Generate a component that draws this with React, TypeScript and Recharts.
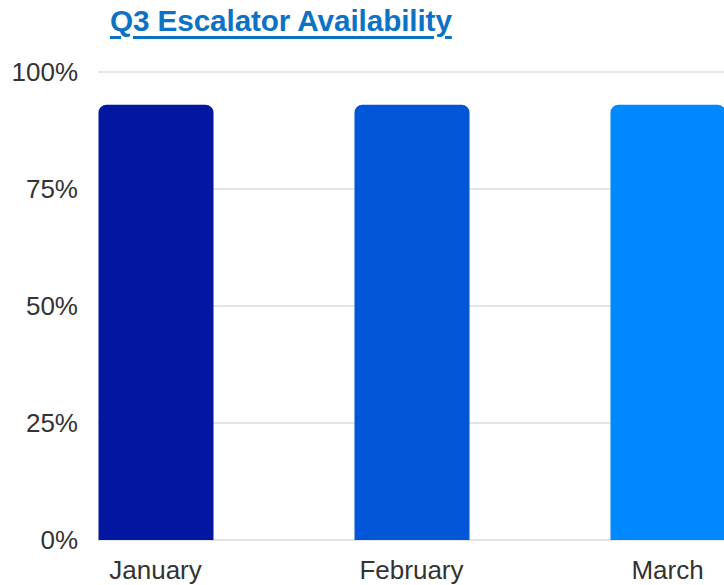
import React from 'react';
import { BarChart, Bar, Cell, XAxis, YAxis, CartesianGrid } from 'recharts';

const months = ['January', 'February', 'March'];
const availability = [93, 93, 93];
const barColors = ['#0216A0', '#0056D6', '#0089FF'];
const yTicks = [0, 25, 50, 75, 100];

const data = months.map((month, i) => ({ month, value: availability[i] }));

export default function App() {
  return (
    <div
      style={{
        position: 'absolute',
        left: 0,
        top: 0,
        width: 724,
        height: 585,
        overflow: 'hidden',
        background: '#fff',
        fontFamily: '"Liberation Sans", Arial, sans-serif',
      }}
    >
      <div
        style={{
          position: 'absolute',
          left: 110,
          top: 6,
          fontSize: 29.7,
          lineHeight: '29px',
          fontWeight: 'bold',
          color: '#0B72C4',
          textDecoration: 'underline',
          textDecorationThickness: '3px',
          textUnderlineOffset: '5px',
          whiteSpace: 'nowrap',
          letterSpacing: '-0.1px',
        }}
      >
        Q3 Escalator Availability
      </div>
      <BarChart
        width={724}
        height={585}
        data={data}
        margin={{ top: 72, right: 0, bottom: 0, left: 0 }}
        style={{ position: 'absolute', left: 0, top: 0 }}
      >
        <CartesianGrid vertical={false} stroke="#DCDCDC" strokeWidth={1.5} />
        <XAxis
          dataKey="month"
          height={45}
          axisLine={false}
          tickLine={false}
          tickSize={6}
          tickMargin={15}
          padding={{ left: -70.5, right: -71.5 }}
          tick={{ fill: '#333', fontSize: 26 }}
          interval={0}
        />
        <YAxis
          width={98}
          domain={[0, 100]}
          ticks={yTicks}
          tickFormatter={(v: number) => `${v}%`}
          axisLine={false}
          tickLine={false}
          tickSize={6}
          tickMargin={14}
          tick={{ fill: '#333', fontSize: 26 }}
        />
        <Bar dataKey="value" barSize={115} radius={[8, 8, 0, 0]} isAnimationActive={false}>
          {data.map((d, i) => (
            <Cell key={d.month} fill={barColors[i]} />
          ))}
        </Bar>
      </BarChart>
    </div>
  );
}
